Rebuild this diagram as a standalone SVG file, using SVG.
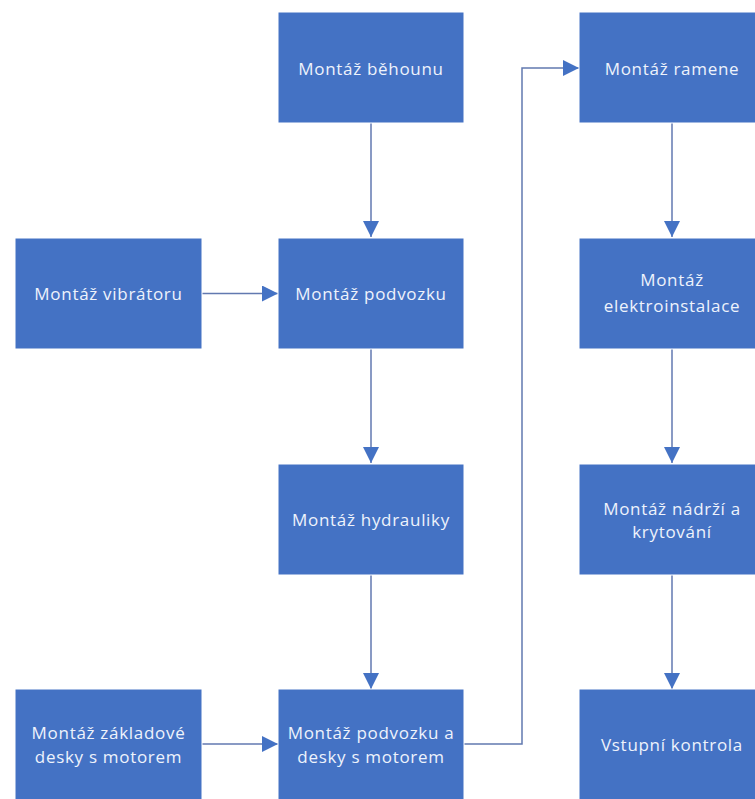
<svg xmlns="http://www.w3.org/2000/svg" width="755" height="799" viewBox="0 0 755 799">
  <style>
    .box { fill: #4472C4; stroke: #FFFFFF; stroke-width: 1; }
    .lbl { font-family: "Open Sans", "Noto Sans", "Liberation Sans", sans-serif; font-size: 17px; letter-spacing: 0.7px; fill: #EEF3FC; text-anchor: middle; }
    .conn { fill: none; stroke: #6279B0; stroke-width: 1.5; }
  </style>
  <defs>
    <marker id="arrow" viewBox="0 0 10 10" refX="10" refY="5" markerWidth="16" markerHeight="16" markerUnits="userSpaceOnUse" orient="auto">
      <path d="M0,0 L10,5 L0,10 Z" fill="#4472C4"/>
    </marker>
  </defs>
  <rect width="755" height="799" fill="#FFFFFF"/>

  <g id="connectors">
    <line class="conn" x1="371" y1="123" x2="371" y2="237" marker-end="url(#arrow)"/>
    <line class="conn" x1="202" y1="293.5" x2="278" y2="293.5" marker-end="url(#arrow)"/>
    <line class="conn" x1="371" y1="349" x2="371" y2="463" marker-end="url(#arrow)"/>
    <line class="conn" x1="371" y1="575" x2="371" y2="689" marker-end="url(#arrow)"/>
    <line class="conn" x1="202" y1="744" x2="278" y2="744" marker-end="url(#arrow)"/>
    <polyline class="conn" points="464,744 522,744 522,68 579,68" marker-end="url(#arrow)"/>
    <line class="conn" x1="672" y1="123" x2="672" y2="237" marker-end="url(#arrow)"/>
    <line class="conn" x1="672" y1="349" x2="672" y2="463" marker-end="url(#arrow)"/>
    <line class="conn" x1="672" y1="575" x2="672" y2="689" marker-end="url(#arrow)"/>
  </g>

  <g id="montaz-behounu">
    <rect class="box" x="278" y="12" width="186" height="111"/>
    <text class="lbl" x="371" y="75">Montáž běhounu</text>
  </g>
  <g id="montaz-vibratoru">
    <rect class="box" x="15" y="238" width="187" height="111"/>
    <text class="lbl" x="108.5" y="300">Montáž vibrátoru</text>
  </g>
  <g id="montaz-podvozku">
    <rect class="box" x="278" y="238" width="186" height="111"/>
    <text class="lbl" x="371" y="300">Montáž podvozku</text>
  </g>
  <g id="montaz-hydrauliky">
    <rect class="box" x="278" y="464" width="186" height="111"/>
    <text class="lbl" x="371" y="526">Montáž hydrauliky</text>
  </g>
  <g id="montaz-zakladove-desky">
    <rect class="box" x="15" y="689" width="187" height="111"/>
    <text class="lbl" x="108.5" y="739">Montáž základové</text>
    <text class="lbl" x="108.5" y="763">desky s motorem</text>
  </g>
  <g id="montaz-podvozku-a-desky">
    <rect class="box" x="278" y="689" width="186" height="111"/>
    <text class="lbl" x="371" y="739">Montáž podvozku a</text>
    <text class="lbl" x="371" y="763">desky s motorem</text>
  </g>
  <g id="montaz-ramene">
    <rect class="box" x="579" y="12" width="186" height="111"/>
    <text class="lbl" x="672" y="75">Montáž ramene</text>
  </g>
  <g id="montaz-elektroinstalace">
    <rect class="box" x="579" y="238" width="186" height="111"/>
    <text class="lbl" x="672" y="286">Montáž</text>
    <text class="lbl" x="672" y="312">elektroinstalace</text>
  </g>
  <g id="montaz-nadrzi">
    <rect class="box" x="579" y="464" width="186" height="111"/>
    <text class="lbl" x="672" y="515">Montáž nádrží a</text>
    <text class="lbl" x="672" y="538">krytování</text>
  </g>
  <g id="vstupni-kontrola">
    <rect class="box" x="579" y="689" width="186" height="111"/>
    <text class="lbl" x="672" y="751">Vstupní kontrola</text>
  </g>
</svg>
